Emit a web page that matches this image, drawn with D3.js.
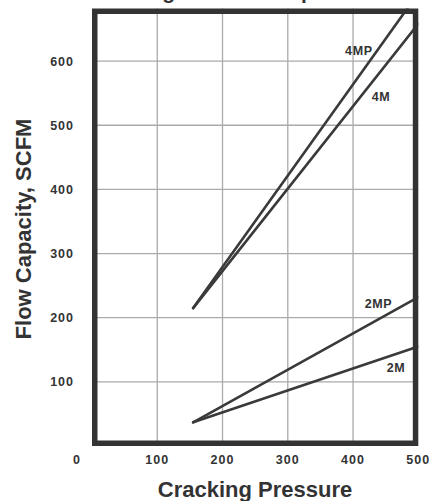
<!DOCTYPE html>
<html>
<head>
<meta charset="utf-8">
<script src="https://cdn.jsdelivr.net/npm/d3@7"></script>
<style>
  html, body { margin: 0; padding: 0; background: #fff; }
  svg { display: block; }
  text { font-family: "Liberation Sans", Arial, sans-serif; font-weight: bold; fill: #333; }
</style>
</head>
<body>
<div id="chart"></div>
<script>
// data
const pressure = [155, 500];               // cracking pressure at start / end
const series = ["4MP", "4M", "2MP", "2M"];
const flow4MP = [215, 706];
const flow4M = [215, 658];
const flow2MP = [37, 232];
const flow2M = [37, 155];
const labelX = [430, 457, 460, 480];       // where the line names sit (data units)
const labelY = [610, 538, 215, 115];
const xTicks = [100, 200, 300, 400, 500];
const yTicks = [100, 200, 300, 400, 500, 600];

const flows = [flow4MP, flow4M, flow2MP, flow2M];

const width = 429, height = 501;
const x = d3.scaleLinear().domain([0, 500]).range([92, 418.3]);
const y = d3.scaleLinear().domain([0, 682]).range([446, 8.5]);

const svg = d3.select("#chart").append("svg")
  .attr("width", width)
  .attr("height", height);

// cut-off title at the top, only descenders show
svg.append("text")
  .attr("x", 21)
  .attr("y", -1.5)
  .style("font-size", "21px")
  .text("Air Flow Rating at 10% Overpressure");

svg.append("clipPath").attr("id", "plotclip")
  .append("rect")
  .attr("x", x(0)).attr("y", y(682))
  .attr("width", x(500) - x(0)).attr("height", y(0) - y(682));

// grid
svg.append("g").selectAll("line").data(xTicks.slice(0, -1)).join("line")
  .attr("x1", d => x(d)).attr("x2", d => x(d))
  .attr("y1", y(682)).attr("y2", y(0))
  .attr("stroke", "#aaa").attr("stroke-width", 1.3);

svg.append("g").selectAll("line").data(yTicks).join("line")
  .attr("x1", x(0)).attr("x2", x(500))
  .attr("y1", d => y(d)).attr("y2", d => y(d))
  .attr("stroke", "#aaa").attr("stroke-width", 1.3);

// lines
const line = d3.line()
  .x((d, i) => x(pressure[i]))
  .y(d => y(d));

svg.append("g").attr("clip-path", "url(#plotclip)")
  .selectAll("path").data(flows).join("path")
  .attr("d", d => line(d))
  .attr("fill", "none")
  .attr("stroke", "#3a3a3a")
  .attr("stroke-width", 2.6)
  .attr("stroke-linecap", "round");

// line names
svg.append("g").selectAll("text").data(series).join("text")
  .attr("x", (d, i) => x(labelX[i]))
  .attr("y", (d, i) => y(labelY[i]))
  .attr("text-anchor", "end")
  .style("font-size", "12.5px")
  .style("letter-spacing", "0.6px")
  .text(d => d);

// frame
const sw = 5.5;
svg.append("rect")
  .attr("x", x(0) + sw / 2)
  .attr("y", y(682) + sw / 2)
  .attr("width", x(500) - x(0) - sw)
  .attr("height", y(0) - y(682) - sw)
  .attr("fill", "none")
  .attr("stroke", "#333")
  .attr("stroke-width", sw);

// tick labels
svg.append("g").selectAll("text").data(xTicks).join("text")
  .attr("x", d => x(d))
  .attr("y", 463.5)
  .attr("text-anchor", "middle")
  .style("font-size", "12.5px")
  .style("letter-spacing", "1px")
  .text(d => d);

svg.append("g").selectAll("text").data(yTicks).join("text")
  .attr("x", 74)
  .attr("y", d => y(d))
  .attr("dy", "0.37em")
  .attr("text-anchor", "end")
  .style("font-size", "12.5px")
  .style("letter-spacing", "1px")
  .text(d => d);

svg.append("text")
  .attr("x", 76.5)
  .attr("y", 463.5)
  .attr("text-anchor", "middle")
  .style("font-size", "12.5px")
  .text("0");

// axis titles
svg.append("text")
  .attr("x", 255)
  .attr("y", 497)
  .attr("text-anchor", "middle")
  .style("font-size", "22px")
  .text("Cracking Pressure");

svg.append("text")
  .attr("transform", "translate(31,229) rotate(-90)")
  .attr("text-anchor", "middle")
  .style("font-size", "22px")
  .text("Flow Capacity, SCFM");
</script>
</body>
</html>
